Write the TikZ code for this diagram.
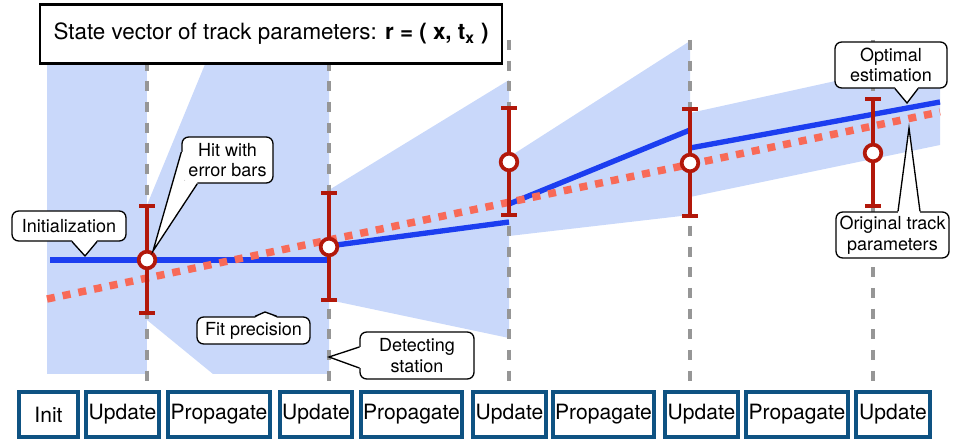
\documentclass[tikz,border=0pt]{standalone}
\usepackage{fontspec}
\setmainfont{TeX Gyre Heros}
\usetikzlibrary{calc}
\definecolor{fillblue}{RGB}{201,216,250}
\definecolor{trackblue}{RGB}{28,62,240}
\definecolor{origred}{RGB}{248,106,88}
\definecolor{barred}{RGB}{178,24,10}
\definecolor{stgray}{RGB}{150,150,150}
\definecolor{boxblue}{RGB}{14,82,130}
\begin{document}
\begin{tikzpicture}[x=0.75pt,y=-0.75pt,
  region/.style={fill=fillblue,draw=none},
  station/.style={draw=stgray,line width=3.5pt,dash pattern=on 7.5pt off 8pt},
  estline/.style={draw=trackblue,line width=4pt},
  origline/.style={draw=origred,line width=5.6pt,dash pattern=on 6pt off 6pt},
  errbar/.style={draw=barred,line width=2.8pt},
  hitmark/.style={circle,draw=barred,fill=white,line width=2.8pt,minimum size=12.5pt,inner sep=0pt},
  stepbox/.style={draw=boxblue,line width=3pt,fill=white,minimum height=33.75pt,inner sep=0pt,font=\fontsize{15.8}{18}\selectfont},
  callout/.style={draw=black,line width=1pt,fill=white,rounded corners=5pt,align=center,inner sep=0pt,font=\fontsize{13.5}{15.5}\selectfont},
  ptr/.style={draw=black,line width=1pt},
  ptrfill/.style={fill=white,draw=none}
]
\useasboundingbox (0,0) rectangle (953,441);

% uncertainty regions
\fill[region] (47,40) rectangle (147,374);
\fill[region] (147,205) -- (215,40) -- (329,40) -- (329,374) -- (213,374) -- (147,320) -- cycle;
\fill[region] (329,190) -- (509,80) -- (509,338) -- (329,300) -- cycle;
\fill[region] (509,157) -- (690,41) -- (690,215) -- (509,236) -- cycle;
\fill[region] (690,113) -- (940,58) -- (940,145) -- (690,197) -- cycle;

% detecting stations
\foreach \sx/\sn in {147/1,329/2,509/3,690/4,873/5}{
  \coordinate (st\sn) at (\sx,40);
  \coordinate (sb\sn) at (\sx,381);
  \draw[station] (st\sn) -- (sb\sn);
}

% estimated track
\coordinate (e1a) at (50,260);  \coordinate (e1b) at (329,260);
\coordinate (e2a) at (329,246); \coordinate (e2b) at (509,222);
\coordinate (e3a) at (509,204); \coordinate (e3b) at (690,130);
\coordinate (e4a) at (690,148); \coordinate (e4b) at (940,102);
\draw[estline] (e1a) -- (e1b);
\draw[estline] (e2a) -- (e2b);
\draw[estline] (e3a) -- (e3b);
\draw[estline] (e4a) -- (e4b);

% original track
\coordinate (oa) at (47,299);
\coordinate (ob) at (940,112);
\draw[origline] (oa) -- (ob);

% hits with error bars
\foreach \hx/\hy/\hn in {147/260/1,329/247/2,509/162/3,690/163/4,873/153/5}{
  \coordinate (bt\hn) at (\hx,\hy-54);
  \coordinate (bb\hn) at (\hx,\hy+53);
  \draw[errbar] (bt\hn) -- (bb\hn);
  \draw[errbar] ($(bt\hn)+(-8,0)$) -- ($(bt\hn)+(8,0)$);
  \draw[errbar] ($(bb\hn)+(-8,0)$) -- ($(bb\hn)+(8,0)$);
  \node[hitmark] (hit\hn) at (\hx,\hy) {};
}

% title
\node[draw=black,line width=2.2pt,fill=white,minimum width=346.5pt,minimum height=44.25pt,inner sep=0pt,font=\fontsize{16.8}{19}\selectfont] (title) at (271,34)
  {State vector of track parameters: \textbf{r = ( x, t\textsubscript{x} )}};

% callouts
\node[callout,minimum width=85.5pt,minimum height=22.5pt] (initN) at (69,226) {Initialization};
\coordinate (initTip) at (85,256);
\fill[ptrfill] (initTip) -- ($(initN.south)+(3,-1.5)$) -- ($(initN.south)+(28,-1.5)$) -- cycle;
\draw[ptr] ($(initN.south)+(3,0)$) -- (initTip) -- ($(initN.south)+(28,0)$);

\node[callout,minimum width=68.25pt,minimum height=34.5pt] (hitN) at (227.5,160) {Hit with\\error bars};
\coordinate (hitTip) at (153,251);
\fill[ptrfill] (hitTip) -- ($(hitN.west)+(0,-8)$) -- ($(hitN.west)+(3,-8)$)
  -- ($(hitN.south west)+(3,-3)$) -- ($(hitN.south west)+(16,-3)$) -- ($(hitN.south west)+(16,0)$) -- cycle;
\draw[ptr] ($(hitN.west)+(0,-8)$) -- (hitTip) -- ($(hitN.south west)+(16,0)$);

\node[callout,minimum width=84.75pt,minimum height=20.25pt] (fitN) at (253.5,330.5) {Fit precision};
\coordinate (fitTip) at (265,312);
\fill[ptrfill] (fitTip) -- ($(fitN.north)+(1.5,1.5)$) -- ($(fitN.north)+(23.5,1.5)$) -- cycle;
\draw[ptr] ($(fitN.north)+(1.5,0)$) -- (fitTip) -- ($(fitN.north)+(23.5,0)$);

\node[callout,minimum width=85.5pt,minimum height=35.25pt] (detN) at (417,355.5) {Detecting\\station};
\coordinate (detTip) at (329,357);
\fill[ptrfill] (detTip) -- ($(detN.west)+(1.5,-8.5)$) -- ($(detN.west)+(1.5,12.5)$) -- cycle;
\draw[ptr] ($(detN.west)+(0,-8.5)$) -- (detTip) -- ($(detN.west)+(0,12.5)$);

\node[callout,minimum width=84pt,minimum height=34.5pt] (optN) at (891,65) {Optimal\\estimation};
\coordinate (optTip) at (907,103);
\fill[ptrfill] (optTip) -- ($(optN.south)+(4,-1.5)$) -- ($(optN.south)+(27,-1.5)$) -- cycle;
\draw[ptr] ($(optN.south)+(4,0)$) -- (optTip) -- ($(optN.south)+(27,0)$);

\node[callout,minimum width=84.75pt,minimum height=34.5pt] (origN) at (892.5,235) {Original track\\parameters};
\coordinate (origTip) at (909,128);
\fill[ptrfill] (origTip) -- ($(origN.north)+(5.5,1.5)$) -- ($(origN.north)+(27.5,1.5)$) -- cycle;
\draw[ptr] ($(origN.north)+(5.5,0)$) -- (origTip) -- ($(origN.north)+(27.5,0)$);

% step boxes
\node[stepbox,minimum width=44.25pt] (s0) at (48.5,414.5) {Init};
\node[stepbox,minimum width=54.75pt] (s1) at (122.5,414.5) {Update};
\node[stepbox,minimum width=76.5pt]  (s2) at (219,414.5) {Propagate};
\node[stepbox,minimum width=54pt]    (s3) at (316,414.5) {Update};
\node[stepbox,minimum width=75.75pt] (s4) at (411.5,414.5) {Propagate};
\node[stepbox,minimum width=54.75pt] (s5) at (509.5,414.5) {Update};
\node[stepbox,minimum width=75.75pt] (s6) at (603.5,414.5) {Propagate};
\node[stepbox,minimum width=54.75pt] (s7) at (701.5,414.5) {Update};
\node[stepbox,minimum width=76.5pt]  (s8) at (797,414.5) {Propagate};
\node[stepbox,minimum width=55.5pt]  (s9) at (893,414.5) {Update};
\end{tikzpicture}
\end{document}
